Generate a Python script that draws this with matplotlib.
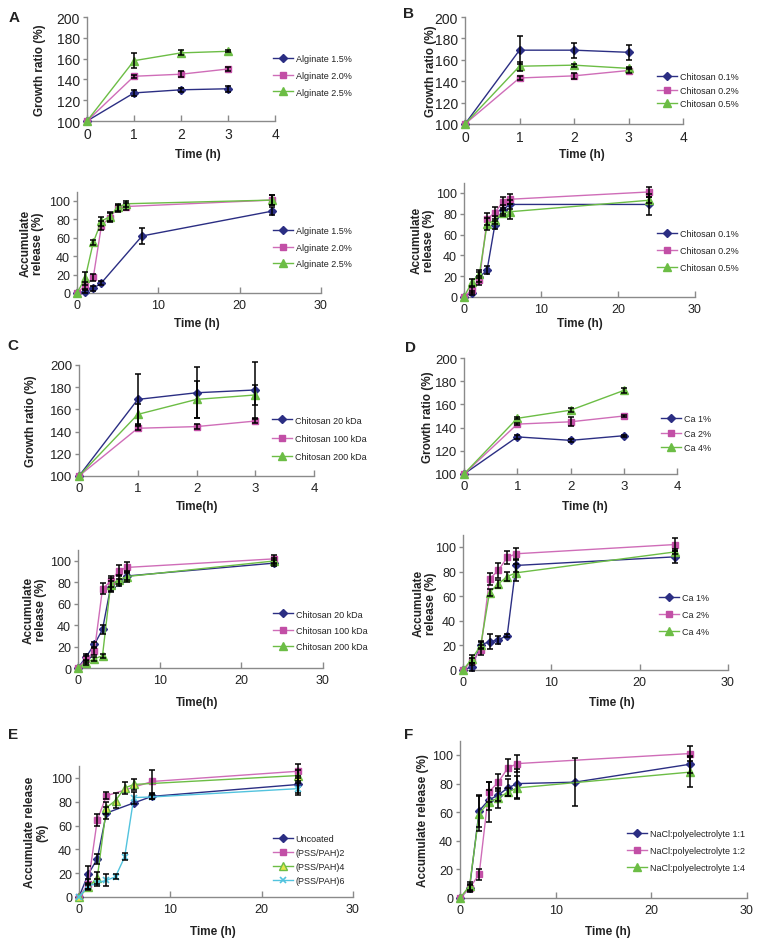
import matplotlib
matplotlib.use('Agg')
import matplotlib.pyplot as plt

plt.rcParams['font.family'] = ['Liberation Sans', 'DejaVu Sans']

# ---------------- data ----------------
t_growth = [0, 1, 2, 3]
t_rel = [0, 1, 2, 3, 4, 5, 6, 24]

# A growth
alg15_g = [100, 127, 130, 131];      alg15_g_err = [0, 3, 2, 3]
alg20_g = [100, 143, 145, 150];      alg20_g_err = [0, 1.5, 3, 2]
alg25_g = [100, 158, 165.5, 167];    alg25_g_err = [0, 7, 2.5, 1]
# B growth
ch01_g = [100, 169, 169, 167];       ch01_g_err = [0, 13, 7, 7]
ch02_g = [100, 143, 145, 150];       ch02_g_err = [0, 1.5, 3, 2]
ch05_g = [100, 154, 155, 152];       ch05_g_err = [0, 4, 1.5, 1]
# A release
t_alg15 = [0, 1, 2, 3, 8, 24]
alg15_r = [0, 1.5, 5, 11, 62, 89];   alg15_r_err = [0, 2, 3, 2, 9, 4]
alg20_r = [0, 8, 17, 73, 82, 92, 94, 101]; alg20_r_err = [0, 4, 4, 5, 5, 4, 4, 5]
alg25_r = [0, 16, 55, 78, 83, 93, 97, 101]; alg25_r_err = [0, 7, 3, 5, 5, 4, 3, 5]
# B release
ch01_r = [0, 4, 19, 26, 69, 84, 89, 89]; ch01_r_err = [0, 2, 5, 4, 4, 4, 4, 10]
ch02_r = [0, 7, 16, 75, 81, 91, 94, 101]; ch02_r_err = [0, 3, 4, 6, 6, 5, 5, 5]
ch05_r = [0, 14, 22, 70, 74, 81, 82, 93]; ch05_r_err = [0, 3, 4, 6, 4, 3, 7, 3]
# C growth
ch20_g = [100, 169, 175, 177.5];     ch20_g_err = [0, 23, 23, 25]
ch100_g = [100, 143, 144.5, 149.5];  ch100_g_err = [0, 2, 2, 2]
ch200_g = [100, 155.5, 169, 173];    ch200_g_err = [0, 9, 17, 9]
# D growth
ca1_g = [100, 132, 129, 133];        ca1_g_err = [0, 2, 1, 1]
ca2_g = [100, 143, 145, 150];        ca2_g_err = [0, 1, 4, 1]
ca4_g = [100, 148, 155, 172];        ca4_g_err = [0, 1, 1.5, 2]
# C release
ch20_r = [0, 10.5, 22, 36, 76, 80, 86, 98];     ch20_r_err = [0, 3, 2, 4, 5, 3, 4, 3]
ch100_r = [0, 8, 15.5, 74, 81, 91, 94, 102];    ch100_r_err = [0, 3, 3, 5, 5, 5, 5, 4]
ch200_r = [0, 5, 8.5, 11.5, 78, 82.5, 85.5, 100]; ch200_r_err = [0, 2, 2, 2, 6, 4, 5, 3]
# D release
ca1_r = [0, 2.5, 20.5, 23, 24.5, 28, 85, 92];   ca1_r_err = [0, 3, 3, 6, 3, 1, 5, 5]
ca2_r = [0, 7, 16, 74, 81, 91.5, 94.5, 102];    ca2_r_err = [0, 3, 4, 5, 6, 5, 5, 5]
ca4_r = [0, 9, 20, 63, 70, 76, 79, 96];         ca4_r_err = [0, 3, 3, 3, 3, 4, 7, 2]
# E
t_unc = [0, 1, 2, 3, 6, 8, 24]
unc = [0, 19, 32, 70.5, 79, 84.5, 94.5];        unc_err = [0, 7, 4, 5, 0, 2, 7]
t_pss2 = [0, 1, 2, 3, 8, 24]
pss2 = [0, 10.7, 64.6, 85, 97, 105.6];          pss2_err = [0, 4, 5, 3, 10, 6]
pss4 = [0, 8, 16, 75, 81, 91.5, 94.5, 102];     pss4_err = [0, 2, 5, 5, 6, 5, 5, 5]
t_pss6 = [0, 1, 2, 3, 4, 5, 6, 8, 24]
pss6 = [0, 9, 12, 14, 17, 33.7, 83.5, 84, 91];  pss6_err = [0, 2, 3, 5, 2, 3, 5, 2, 5]
# F
t_f11 = [0, 1, 2, 3, 4, 5, 6, 12, 24]
f11 = [0, 7, 61, 68.5, 72, 77, 80, 81, 93.5];   f11_err = [0, 3, 11, 7, 4, 6, 10, 17, 6]
f12 = [0, 7, 16.5, 74, 81, 91, 94, 101];        f12_err = [0, 2, 4, 7, 6, 6, 6, 5]
f14 = [0, 8.5, 59, 67, 70, 74, 77, 88];         f14_err = [0, 3, 12, 14, 7, 3, 8, 10.5]

# ---------------- styles ----------------
NAVY = '#2B2E83'
PINK = '#C24FA6'
PINKL = '#CF6DB8'
GREEN = '#6CBD45'
CYAN = '#52C3DE'
YEL = '#E4E64A'
TXT = '#222222'
SP = '#8A8A8A'

S_NAVY = dict(color=NAVY, marker='D', markersize=3.6, mfc=NAVY, mec=NAVY)
S_PINK = dict(color=PINKL, marker='s', markersize=5, mfc=PINK, mec=PINK)
S_GREEN = dict(color=GREEN, marker='^', markersize=5.5, mfc=GREEN, mec=GREEN)
S_YEL = dict(color=GREEN, marker='^', markersize=6, mfc=YEL, mec=GREEN)
S_CYAN = dict(color=CYAN, marker='x', markersize=5, mec=CYAN, mew=1.2)

W, H = 761, 945
fig = plt.figure(figsize=(W / 100, H / 100), dpi=100)


def make_axes(l, r, t, b, xlim, ylim, xticks, yticks, ysize):
    ax = fig.add_axes([l / W, 1 - b / H, (r - l) / W, (b - t) / H])
    ax.set_xlim(*xlim)
    ax.set_ylim(*ylim)
    ax.set_xticks(xticks)
    ax.set_yticks(yticks)
    for s in ('top', 'right'):
        ax.spines[s].set_visible(False)
    for s in ('left', 'bottom'):
        ax.spines[s].set_color(SP)
        ax.spines[s].set_linewidth(1.0)
    ax.tick_params(axis='x', direction='in', length=4, width=1, color=SP,
                   labelsize=ysize, labelcolor=TXT, pad=4)
    ax.tick_params(axis='y', direction='out', length=3, width=1, color=SP,
                   labelsize=ysize, labelcolor=TXT, pad=2)
    ax.patch.set_alpha(0)
    for sp in ax.spines.values():
        sp.set_zorder(0.5)
    return ax


def plot_series(ax, x, y, err, style, label):
    line, = ax.plot(x, y, lw=1.0, label=label, zorder=3, clip_on=False, **style)
    xs = [a for a, e in zip(x, err) if e > 0]
    ys = [b for b, e in zip(y, err) if e > 0]
    es = [e for e in err if e > 0]
    ax.errorbar(xs, ys, yerr=es, fmt='none', ecolor='black', elinewidth=1.1,
                capsize=2.2, capthick=1.1, zorder=4, clip_on=False)
    return line


def labels(ax, xl, yl, xpos, ypos, l, r, t, b):
    ax.set_xlabel(xl, fontsize=8.5, fontweight='bold', color=TXT)
    ax.set_ylabel(yl, fontsize=8.5, fontweight='bold', color=TXT, linespacing=1.0)
    ax.xaxis.label.set_va('center')
    ax.yaxis.label.set_va('center')
    ax.yaxis.label.set_ha('center')
    ax.xaxis.set_label_coords((xpos[0] - l) / (r - l), (b - xpos[1]) / (b - t))
    ax.yaxis.set_label_coords((ypos - l) / (r - l), 0.5)


def legend(ax, x, y, gap):
    fs = 6.5
    ax.legend(loc='upper left', bbox_to_anchor=(x / W, 1 - (y - 5.5) / H),
              bbox_transform=fig.transFigure, frameon=False, fontsize=fs,
              handlelength=2.2, handletextpad=0.3, borderpad=0, borderaxespad=0,
              labelspacing=(gap - 10.5) / (fs * 100 / 72), numpoints=1,
              labelcolor=TXT)


def panel_letter(x, y, s):
    fig.text(x / W, 1 - y / H, s, fontsize=11, fontweight='bold', color=TXT,
             ha='center', va='center')


GROWTH_Y = [100, 120, 140, 160, 180, 200]
REL_Y = [0, 20, 40, 60, 80, 100]

# ---- A growth ----
g = (87, 275, 18, 122)
ax = make_axes(*g, (0, 4), (100, 200), [0, 1, 2, 3, 4], GROWTH_Y, 10)
plot_series(ax, t_growth, alg15_g, alg15_g_err, S_NAVY, 'Alginate 1.5%')
plot_series(ax, t_growth, alg20_g, alg20_g_err, S_PINK, 'Alginate 2.0%')
plot_series(ax, t_growth, alg25_g, alg25_g_err, S_GREEN, 'Alginate 2.5%')
labels(ax, 'Time (h)', 'Growth ratio (%)', (198, 155), 40, *g)
legend(ax, 273, 61, 18)
panel_letter(14, 18, 'A')

# ---- B growth ----
g = (465, 683, 18, 125)
ax = make_axes(*g, (0, 4), (100, 200), [0, 1, 2, 3, 4], GROWTH_Y, 10)
plot_series(ax, t_growth, ch01_g, ch01_g_err, S_NAVY, 'Chitosan 0.1%')
plot_series(ax, t_growth, ch02_g, ch02_g_err, S_PINK, 'Chitosan 0.2%')
plot_series(ax, t_growth, ch05_g, ch05_g_err, S_GREEN, 'Chitosan 0.5%')
labels(ax, 'Time (h)', 'Growth ratio (%)', (582, 155), 431, *g)
legend(ax, 657, 79, 15)
panel_letter(409, 14, 'B')

# ---- A release ----
g = (77, 321, 192.8, 294)
ax = make_axes(*g, (0, 30), (0, 110), [0, 10, 20, 30], REL_Y, 9)
plot_series(ax, t_alg15, alg15_r, alg15_r_err, S_NAVY, 'Alginate 1.5%')
plot_series(ax, t_rel, alg20_r, alg20_r_err, S_PINK, 'Alginate 2.0%')
plot_series(ax, t_rel, alg25_r, alg25_r_err, S_GREEN, 'Alginate 2.5%')
labels(ax, 'Time (h)', 'Accumulate\nrelease (%)', (197, 324), 32, *g)
legend(ax, 273, 233, 18)

# ---- B release ----
g = (464, 695, 183.6, 298)
ax = make_axes(*g, (0, 30), (0, 110), [0, 10, 20, 30], REL_Y, 9)
plot_series(ax, t_rel, ch01_r, ch01_r_err, S_NAVY, 'Chitosan 0.1%')
plot_series(ax, t_rel, ch02_r, ch02_r_err, S_PINK, 'Chitosan 0.2%')
plot_series(ax, t_rel, ch05_r, ch05_r_err, S_GREEN, 'Chitosan 0.5%')
labels(ax, 'Time (h)', 'Accumulate\nrelease (%)', (580, 324), 423, *g)
legend(ax, 657, 236, 18.5)

# ---- C growth ----
g = (79, 314, 366, 477)
ax = make_axes(*g, (0, 4), (100, 200), [0, 1, 2, 3, 4], GROWTH_Y, 9.5)
plot_series(ax, t_growth, ch20_g, ch20_g_err, S_NAVY, 'Chitosan 20 kDa')
plot_series(ax, t_growth, ch100_g, ch100_g_err, S_PINK, 'Chitosan 100 kDa')
plot_series(ax, t_growth, ch200_g, ch200_g_err, S_GREEN, 'Chitosan 200 kDa')
labels(ax, 'Time(h)', 'Growth ratio (%)', (197, 507), 31, *g)
legend(ax, 272, 422, 20)
panel_letter(13, 346, 'C')

# ---- D growth ----
g = (464, 677, 359, 475)
ax = make_axes(*g, (0, 4), (100, 200), [0, 1, 2, 3, 4], GROWTH_Y, 9.5)
plot_series(ax, t_growth, ca1_g, ca1_g_err, S_NAVY, 'Ca 1%')
plot_series(ax, t_growth, ca2_g, ca2_g_err, S_PINK, 'Ca 2%')
plot_series(ax, t_growth, ca4_g, ca4_g_err, S_GREEN, 'Ca 4%')
labels(ax, 'Time (h)', 'Growth ratio (%)', (585, 507), 428, *g)
legend(ax, 661, 421, 16)
panel_letter(410, 348, 'D')

# ---- C release ----
g = (78, 323, 551.3, 669)
ax = make_axes(*g, (0, 30), (0, 110), [0, 10, 20, 30], REL_Y, 9)
plot_series(ax, t_rel, ch20_r, ch20_r_err, S_NAVY, 'Chitosan 20 kDa')
plot_series(ax, t_rel, ch100_r, ch100_r_err, S_PINK, 'Chitosan 100 kDa')
plot_series(ax, t_rel, ch200_r, ch200_r_err, S_GREEN, 'Chitosan 200 kDa')
labels(ax, 'Time(h)', 'Accumulate\nrelease (%)', (197, 703), 35, *g)
legend(ax, 273, 616, 18)

# ---- D release ----
g = (463, 728, 535.7, 671)
ax = make_axes(*g, (0, 30), (0, 110), [0, 10, 20, 30], REL_Y, 9)
plot_series(ax, t_rel, ca1_r, ca1_r_err, S_NAVY, 'Ca 1%')
plot_series(ax, t_rel, ca2_r, ca2_r_err, S_PINK, 'Ca 2%')
plot_series(ax, t_rel, ca4_r, ca4_r_err, S_GREEN, 'Ca 4%')
labels(ax, 'Time (h)', 'Accumulate\nrelease (%)', (612, 703), 425, *g)
legend(ax, 659, 600, 18.5)

# ---- E ----
g = (79, 353, 767, 898)
ax = make_axes(*g, (0, 30), (0, 110), [0, 10, 20, 30], REL_Y, 9)
plot_series(ax, t_unc, unc, unc_err, S_NAVY, 'Uncoated')
plot_series(ax, t_pss2, pss2, pss2_err, S_PINK, '(PSS/PAH)2')
plot_series(ax, t_rel, pss4, pss4_err, S_YEL, '(PSS/PAH)4')
plot_series(ax, t_pss6, pss6, pss6_err, S_CYAN, '(PSS/PAH)6')
labels(ax, 'Time (h)', 'Accumulate release\n(%)', (213, 932), 36, *g)
legend(ax, 273, 841, 15.3)
panel_letter(13, 735, 'E')

# ---- F ----
g = (460, 747, 741.7, 899)
ax = make_axes(*g, (0, 30), (0, 110), [0, 10, 20, 30], REL_Y, 9)
plot_series(ax, t_f11, f11, f11_err, S_NAVY, 'NaCl:polyelectrolyte 1:1')
plot_series(ax, t_rel, f12, f12_err, S_PINK, 'NaCl:polyelectrolyte 1:2')
plot_series(ax, t_rel, f14, f14_err, S_GREEN, 'NaCl:polyelectrolyte 1:4')
labels(ax, 'Time (h)', 'Accumulate release (%)', (608, 932), 423, *g)
legend(ax, 627, 836, 18.5)
panel_letter(409, 735, 'F')

fig.savefig('out.png', dpi=100, facecolor='white')
